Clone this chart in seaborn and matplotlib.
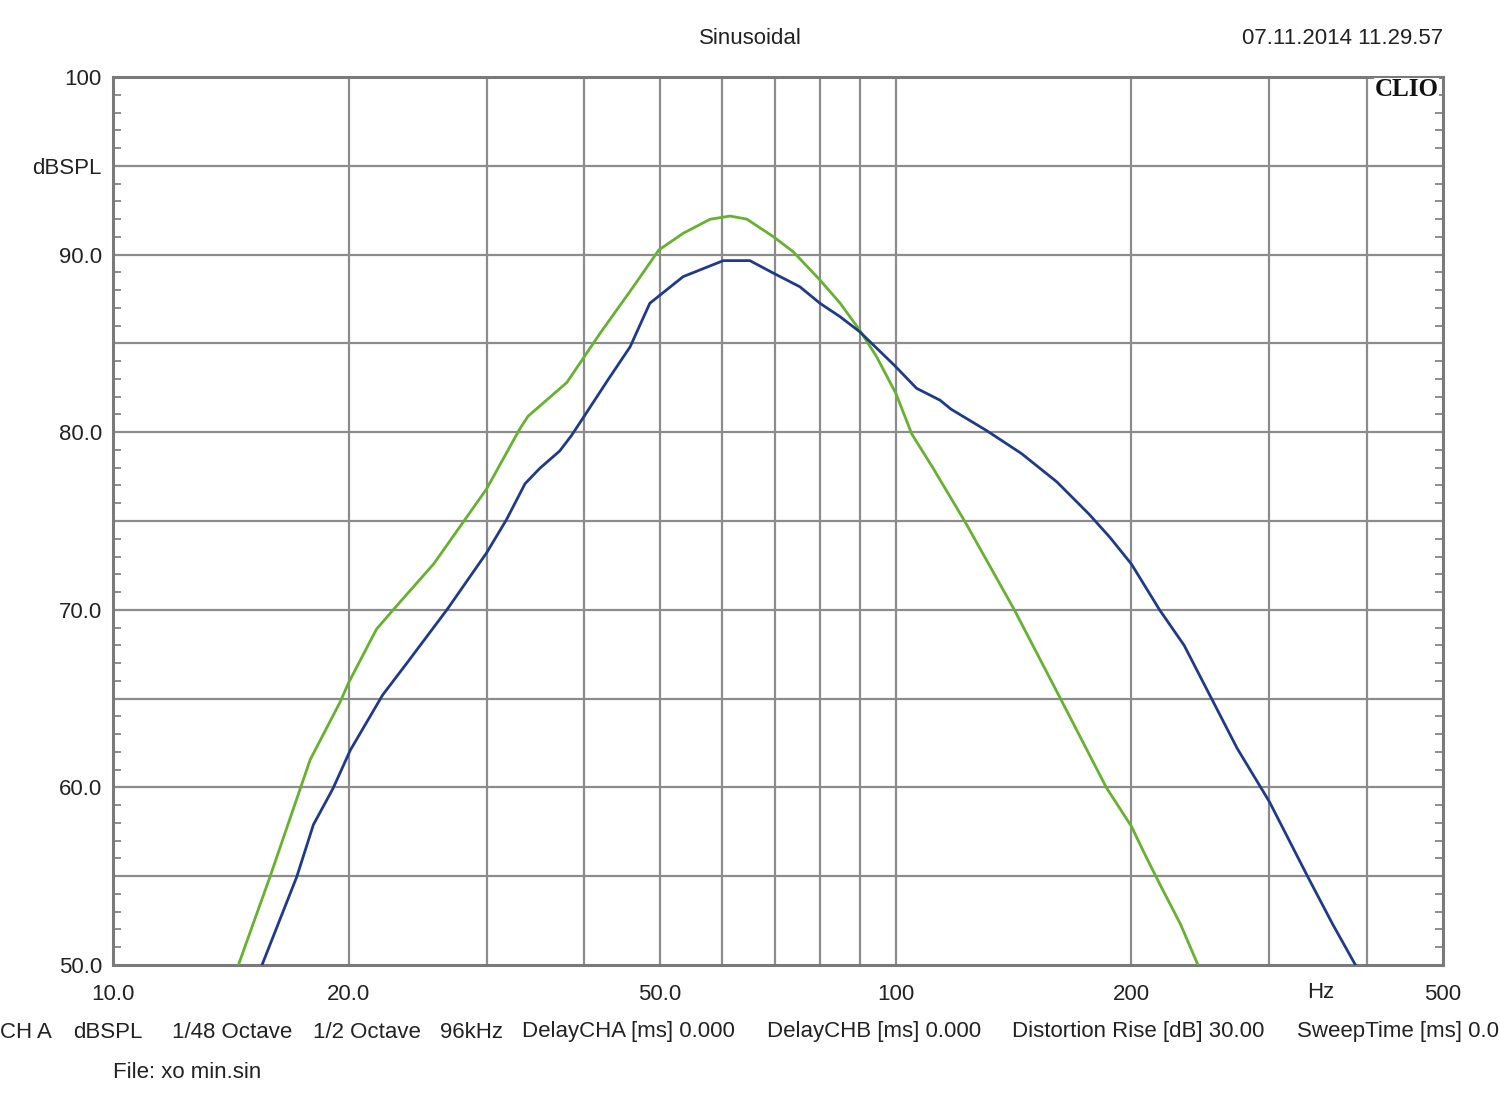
import numpy as np
import pandas as pd
import matplotlib
matplotlib.use("Agg")
import matplotlib.pyplot as plt
import seaborn as sns
from matplotlib.ticker import FixedLocator, NullFormatter

# ---- data ----
green_freq = [14.46, 15.87, 17.35, 17.86, 19.5, 20.0, 21.7, 22.8, 25.7, 30.0, 33.1, 33.9,
              38.0, 41.9, 46.2, 49.8, 53.5, 57.9, 61.4, 64.5, 69.8, 73.95, 80.0, 84.9,
              89.9, 94.5, 100.0, 104.8, 111.6, 122.6, 141.7, 162.3, 185.7, 200.0,
              208.2, 216.8, 231.0, 243.2]
green_db = [50.0, 54.97, 59.94, 61.56, 64.8, 65.9, 68.9, 70.0, 72.6, 76.8, 80.2, 80.9,
            82.8, 85.57, 88.19, 90.26, 91.2, 91.99, 92.17, 92.0, 91.0, 90.16, 88.57, 87.26,
            85.75, 84.25, 82.19, 79.9, 77.97, 74.95, 70.0, 65.0, 60.0, 57.8,
            56.2, 54.65, 52.3, 50.0]

blue_freq = [15.5, 17.17, 18.03, 19.1, 20.1, 22.1, 23.7, 26.7, 30.0, 31.8, 33.6, 35.1,
             37.2, 38.5, 39.85, 42.9, 45.76, 48.5, 53.5, 60.2, 65.1, 69.8, 75.4, 80.0,
             84.9, 89.9, 99.5, 106.3, 113.9, 117.6, 130.5, 144.7, 160.6, 176.4, 187.7,
             200.0, 217.2, 233.5, 253.8, 272.9, 300.0, 335.9, 361.4, 386.5]
blue_db = [50.0, 54.97, 57.9, 59.94, 62.1, 65.2, 66.96, 70.0, 73.2, 75.06, 77.1, 77.97,
           78.94, 79.8, 80.8, 82.96, 84.8, 87.26, 88.76, 89.66, 89.66, 88.95, 88.19, 87.26,
           86.5, 85.66, 83.78, 82.47, 81.8, 81.3, 80.1, 78.8, 77.2, 75.4, 74.08,
           72.57, 70.0, 68.0, 64.9, 62.2, 59.2, 54.97, 52.3, 50.0]

x_tick_vals = [10, 20, 50, 100, 200, 500]
x_tick_labels = ["10.0", "20.0", "50.0", "100", "200", "500"]
x_grid_vals = [20, 30, 40, 50, 60, 70, 80, 90, 100, 200, 300, 400]
y_tick_vals = [50, 60, 70, 80, 90, 95, 100]
y_tick_labels = ["50.0", "60.0", "70.0", "80.0", "90.0", "dBSPL", "100"]
y_grid_vals = [55, 60, 65, 70, 75, 80, 85, 90, 95]

title_text = "Sinusoidal"
date_text = "07.11.2014 11.29.57"
info_items = ["CH A", "dBSPL", "1/48 Octave", "1/2 Octave", "96kHz",
              "DelayCHA [ms] 0.000", "DelayCHB [ms] 0.000",
              "Distortion Rise [dB] 30.00", "SweepTime [ms] 0.0"]
info_x_px = [0, 73, 172, 313, 440, 522, 767, 1012, 1297]
file_text = "File: xo min.sin"

# ---- style ----
sns.set_style("white")
plt.rcParams['font.family'] = ['Liberation Sans', 'DejaVu Sans']

W, H = 1500, 1110
fig = plt.figure(figsize=(W / 100, H / 100), dpi=100)
fig.patch.set_facecolor("white")
L, R, T, B = 113, 1443, 77, 965
ax = fig.add_axes([L / W, 1 - B / H, (R - L) / W, (B - T) / H])

green_df = pd.DataFrame({"freq": green_freq, "db": green_db})
blue_df = pd.DataFrame({"freq": blue_freq, "db": blue_db})

ax.set_xscale("log")
ax.set_xlim(10, 500)
ax.set_ylim(50, 100)

grid_col = "#8c8c8c"
for xv in x_grid_vals:
    ax.axvline(xv, color=grid_col, lw=1.6, zorder=1)
for yv in y_grid_vals:
    ax.axhline(yv, color=grid_col, lw=1.6, zorder=1)

sns.lineplot(data=green_df, x="freq", y="db", ax=ax, color="#66b22e", lw=2.0,
             sort=False, zorder=3)
sns.lineplot(data=blue_df, x="freq", y="db", ax=ax, color="#1f3a8c", lw=2.0,
             sort=False, zorder=3)

ax.set_xlabel("")
ax.set_ylabel("")

for s in ax.spines.values():
    s.set_color("#7a7a7a")
    s.set_linewidth(2.2)

ax.xaxis.set_major_locator(FixedLocator(x_tick_vals))
ax.set_xticklabels(x_tick_labels)
ax.xaxis.set_minor_locator(FixedLocator([]))
ax.xaxis.set_minor_formatter(NullFormatter())
ax.tick_params(axis="x", which="both", length=0, pad=14, labelsize=16, colors="#222222")

ax.yaxis.set_major_locator(FixedLocator(y_tick_vals))
ax.set_yticklabels(y_tick_labels)
ax.yaxis.set_minor_locator(FixedLocator(list(range(51, 100))))
ax.tick_params(axis="y", which="major", length=0, pad=8, labelsize=16, colors="#222222")
ax.tick_params(axis="y", which="minor", direction="in", length=6, width=1.2,
               color="#7a7a7a", left=True, right=True)

ax.text((1321 - L) / (R - L), -0.0305, "Hz", transform=ax.transAxes, ha="center",
        va="center", fontsize=16, color="#222222")

ax.text(0.9966, 0.9985, "CLIO", transform=ax.transAxes, ha="right", va="top",
        fontsize=18, fontweight="bold", family="Liberation Serif", color="#111111",
        zorder=5, bbox=dict(facecolor="white", edgecolor="none", pad=0.5))

fig.text(750 / W, 1 - 38 / H, title_text, ha="center", va="center", fontsize=16,
         color="#222222")
fig.text(R / W, 1 - 38 / H, date_text, ha="right", va="center", fontsize=16,
         color="#222222")

for item, xp in zip(info_items, info_x_px):
    fig.text(xp / W, 1 - 1032 / H, item, ha="left", va="center", fontsize=16,
             color="#222222")
fig.text(113 / W, 1 - 1072 / H, file_text, ha="left", va="center", fontsize=16,
         color="#222222")

fig.savefig("out.png", dpi=100, facecolor="white")
